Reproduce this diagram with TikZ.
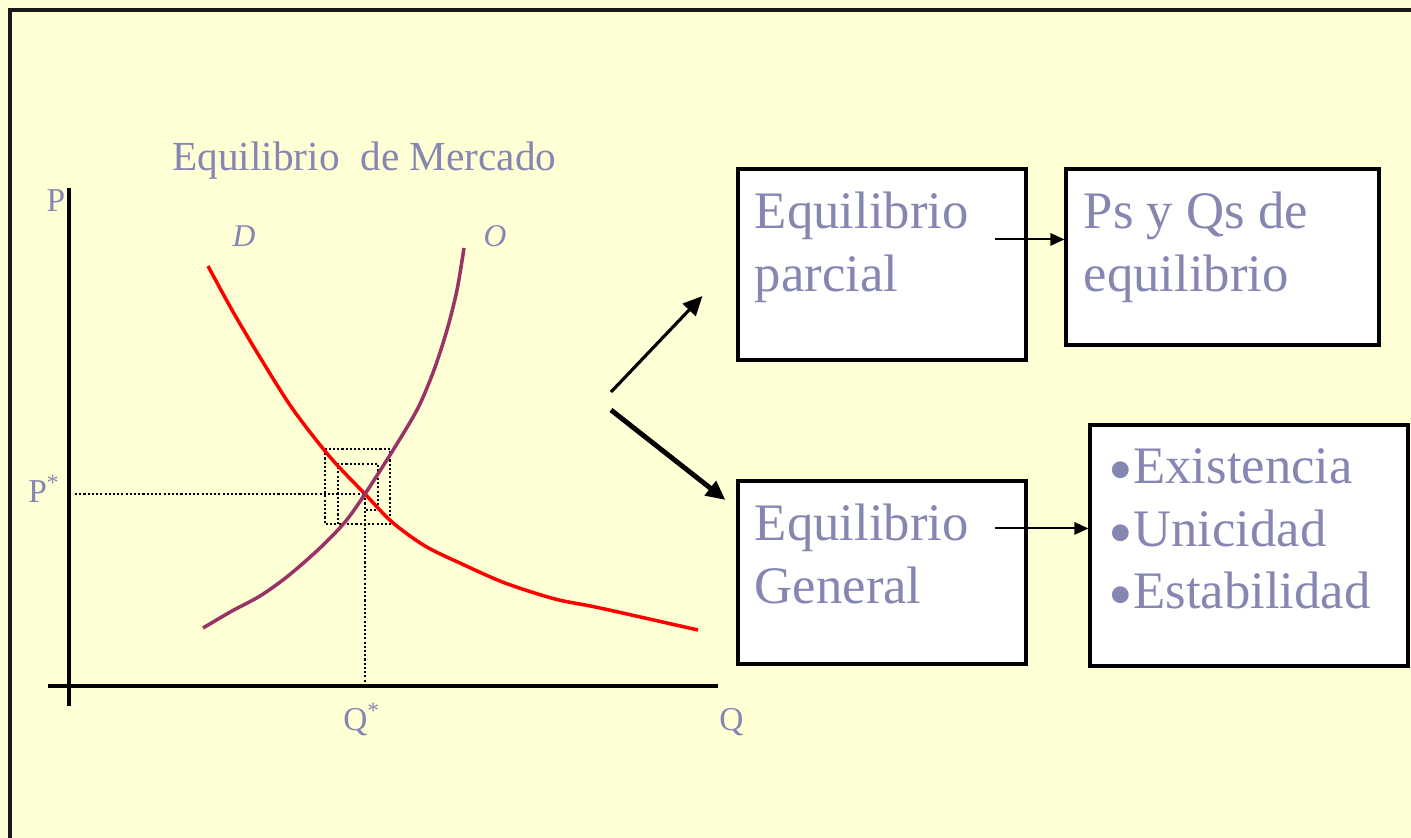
\documentclass[tikz,border=0pt]{standalone}
\usepackage{fontspec}
\setmainfont{Liberation Serif}
\usetikzlibrary{arrows.meta, calc}
\definecolor{fondo}{RGB}{255,255,213}
\definecolor{texto}{RGB}{134,134,178}
\definecolor{oferta}{RGB}{153,51,102}
\newcommand{\vineta}{\smash{\fontsize{40pt}{35.7pt}\selectfont\raisebox{-0.14em}{•}}}
\tikzset{
	caja/.style = {draw, fill = white, line width = 1.8pt, inner sep = 0pt},
	cajatexto/.style = {text = texto, font = \fontsize{30pt}{35.7pt}\selectfont, text width = 6cm, align = flush left, inner sep = 0pt, anchor = base west},
	rotulo/.style = {text = texto, font = \fontsize{19pt}{22pt}\selectfont, inner sep = 0pt, anchor = base west},
	eje/.style = {line width = 2.4pt},
	punteado/.style = {line width = 1.2pt, dash pattern = on 1.2pt off 1.2pt},
	flecha/.style = {-{Triangle[length = 8pt, width = 7pt]}, line width = 1.2pt},
	flechagrande/.style = {-{Triangle[length = 11pt, width = 10pt]}}
}
\begin{document}
\begin{tikzpicture}[x = 0.02cm, y = -0.02cm]
					\useasboundingbox [fill = fondo] (0, 0) rectangle (1411, 838);
					\draw [line width = 2.2pt, color = black!90] (10, 850) -- (10, 10) -- (1420, 10);

					\coordinate (O) at (69, 686);
					\coordinate (E) at (365, 494);

					\draw [eje] (69, 706) -- (69, 188);
					\draw [eje] (48, 686) -- (718, 686);

					\node [rotulo, anchor = base] (P) at (56, 212) {P};
					\node [rotulo] (Pe) at (28, 502) {P\textsuperscript{*}};
					\node [rotulo] (Qe) at (343, 730) {Q\textsuperscript{*}};
					\node [rotulo] (Q) at (719, 730) {Q};
					\node [rotulo, font = \fontsize{18pt}{21pt}\selectfont\itshape, anchor = base] (D) at (244, 247) {D};
					\node [rotulo, font = \fontsize{18pt}{21pt}\selectfont\itshape, anchor = base] (Of) at (495, 247) {O};
					\node [rotulo, font = \fontsize{23.5pt}{28pt}\selectfont] (titulo) at (172, 171) {Equilibrio\ \ de Mercado};

					\draw [punteado] (325, 449) rectangle (390, 524);
					\draw [punteado] (338, 524) -- (338, 464) -- (378, 464) -- (378, 510) -- (365, 510);
					\draw [punteado] (75, 494) -- (E);
					\draw [punteado] (E) -- (E |- O);

					\draw [red, line width = 2pt] plot [smooth, tension = 0.5] coordinates {(208, 266) (232, 310) (258, 354) (292, 408) (330, 457) (E) (392, 522) (425, 546) (462, 564) (505, 583) (555, 599) (600, 608) (698, 630)};
					\draw [oferta, line width = 2pt] plot [smooth, tension = 0.5] coordinates {(203, 628) (232, 611) (260, 596) (288, 576) (320, 548) (345, 522) (E) (395, 447) (418, 408) (434, 370) (447, 330) (457, 290) (464, 248)};

					\node [caja, minimum width = 5.76cm, minimum height = 3.82cm] (b1) at (882, 264.5) {};
					\node [caja, minimum width = 6.26cm, minimum height = 3.52cm] (b2) at (1222.5, 257) {};
					\node [caja, minimum width = 5.76cm, minimum height = 3.66cm] (b3) at (882, 572.5) {};
					\node [caja, minimum width = 6.36cm, minimum height = 4.82cm] (b4) at (1249, 545.5) {};

					\node [cajatexto] (t1) at ($(b1.north west) + (18, 61)$) {Equilibrio\\parcial};
					\node [cajatexto] (t2) at ($(b2.north west) + (19, 61)$) {Ps y Qs de\\equilibrio};
					\node [cajatexto] (t3) at ($(b3.north west) + (18, 61)$) {Equilibrio\\General};
					\node [cajatexto] (t4) at ($(b4.north west) + (20, 60)$) {\vineta Existencia\\\vineta Unicidad\\\vineta Estabilidad};

					\coordinate (s1) at ($(b1.north east) + (-33, 72)$);
					\coordinate (s2) at ($(b3.north east) + (-33, 49)$);
					\coordinate (f1) at (611, 392);
					\coordinate (f2) at (611, 410);

					\draw [flecha] (s1) -- (s1 -| b2.west);
					\draw [flecha] (s2) -- (s2 -| b4.west);
					\draw [flechagrande, line width = 1.8pt] (f1) -- ($(b1.west) + (-34, 31.5)$);
					\draw [flechagrande, line width = 2.8pt] (f2) -- ($(b3.west) + (-11, -72.5)$);
				\end{tikzpicture}
\end{document}
